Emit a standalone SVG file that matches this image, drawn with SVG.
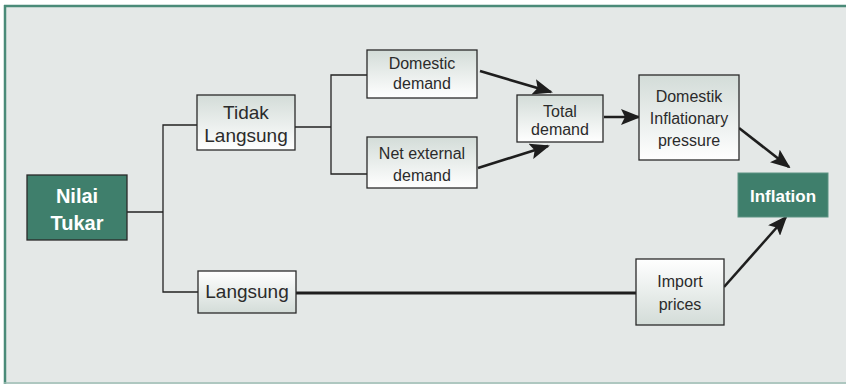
<svg xmlns="http://www.w3.org/2000/svg" width="846" height="384" viewBox="0 0 846 384">
<defs>
<linearGradient id="gDown" x1="0" y1="0" x2="0" y2="1"><stop offset="0" stop-color="#d3dcd8"/><stop offset="1" stop-color="#ffffff"/></linearGradient>
<linearGradient id="gUp" x1="0" y1="0" x2="0" y2="1"><stop offset="0" stop-color="#ffffff"/><stop offset="1" stop-color="#d3dcd8"/></linearGradient>
<marker id="ah" markerUnits="userSpaceOnUse" markerWidth="20" markerHeight="16" viewBox="0 0 20 16" refX="18" refY="8" orient="auto"><path d="M0,0 L20,8 L0,16 L4,8 Z" fill="#1e1e1e"/></marker>
<style>
.box{stroke:#2a2a2a;stroke-width:1.3}
.dark{fill:#3f7f6c}
.t{font-family:"Liberation Sans",Arial,sans-serif;fill:#2b2b2b;text-anchor:middle;font-size:16px}
.big{font-size:19px}
.w{fill:#ffffff;font-weight:bold}
.thin{fill:none;stroke:#222;stroke-width:1.3}
.arr{fill:none;stroke:#1e1e1e;stroke-width:2.6;marker-end:url(#ah)}
</style>
</defs>
<rect x="4" y="5" width="842" height="379" fill="#e4e8e7"/>
<line x1="4" y1="6" x2="846" y2="6" stroke="#4a8a78" stroke-width="2.5"/>
<line x1="5" y1="5" x2="5" y2="384" stroke="#4a8a78" stroke-width="2.5"/>
<line x1="4" y1="383" x2="846" y2="383" stroke="#9dbcb3" stroke-width="1.5"/>

<g id="connectors">
<polyline class="thin" points="127,212 163,212"/>
<polyline class="thin" points="197,125 163,125 163,292 198,292"/>
<polyline class="thin" points="295,127 331,127"/>
<polyline class="thin" points="367,75 331,75 331,174 367,174"/>
<line x1="296" y1="293" x2="636" y2="293" stroke="#1e1e1e" stroke-width="2.8"/>
<line class="arr" x1="480" y1="71" x2="551" y2="92"/>
<line class="arr" x1="478" y1="168" x2="548" y2="146"/>
<line class="arr" x1="604" y1="117" x2="639" y2="117"/>
<line class="arr" x1="739" y1="128" x2="789" y2="167"/>
<line class="arr" x1="724" y1="287" x2="786" y2="217"/>
</g>

<g id="nilai-tukar">
<rect class="box dark" x="27" y="175" width="100" height="65"/>
<text class="t w" x="77" y="203" style="font-size:20px">Nilai</text>
<text class="t w" x="77" y="230" style="font-size:20px">Tukar</text>
</g>
<g id="tidak-langsung">
<rect class="box" x="197" y="95" width="98" height="55" fill="url(#gDown)"/>
<text class="t big" x="246" y="119">Tidak</text>
<text class="t big" x="246" y="142">Langsung</text>
</g>
<g id="langsung">
<rect class="box" x="198" y="271" width="98" height="42" fill="url(#gUp)"/>
<text class="t big" x="247" y="298">Langsung</text>
</g>
<g id="domestic-demand">
<rect class="box" x="367" y="50" width="110" height="48" fill="url(#gDown)"/>
<text class="t" x="422" y="69">Domestic</text>
<text class="t" x="422" y="89">demand</text>
</g>
<g id="net-external-demand">
<rect class="box" x="367" y="137" width="110" height="51" fill="url(#gDown)"/>
<text class="t" x="422" y="159">Net external</text>
<text class="t" x="422" y="181">demand</text>
</g>
<g id="total-demand">
<rect class="box" x="517" y="95" width="86" height="47" fill="url(#gDown)"/>
<text class="t" x="560" y="117">Total</text>
<text class="t" x="560" y="135">demand</text>
</g>
<g id="domestik-inflationary-pressure">
<rect class="box" x="639" y="75" width="100" height="85" fill="url(#gDown)"/>
<text class="t" x="689" y="102">Domestik</text>
<text class="t" x="689" y="124">Inflationary</text>
<text class="t" x="689" y="146">pressure</text>
</g>
<g id="import-prices">
<rect class="box" x="636" y="259" width="88" height="66" fill="url(#gUp)"/>
<text class="t" x="680" y="287">Import</text>
<text class="t" x="680" y="310">prices</text>
</g>
<g id="inflation">
<rect class="dark" x="738" y="173" width="90" height="44" stroke="#5d9383" stroke-width="1"/>
<text class="t w" x="783" y="202" style="font-size:17px">Inflation</text>
</g>
</svg>
